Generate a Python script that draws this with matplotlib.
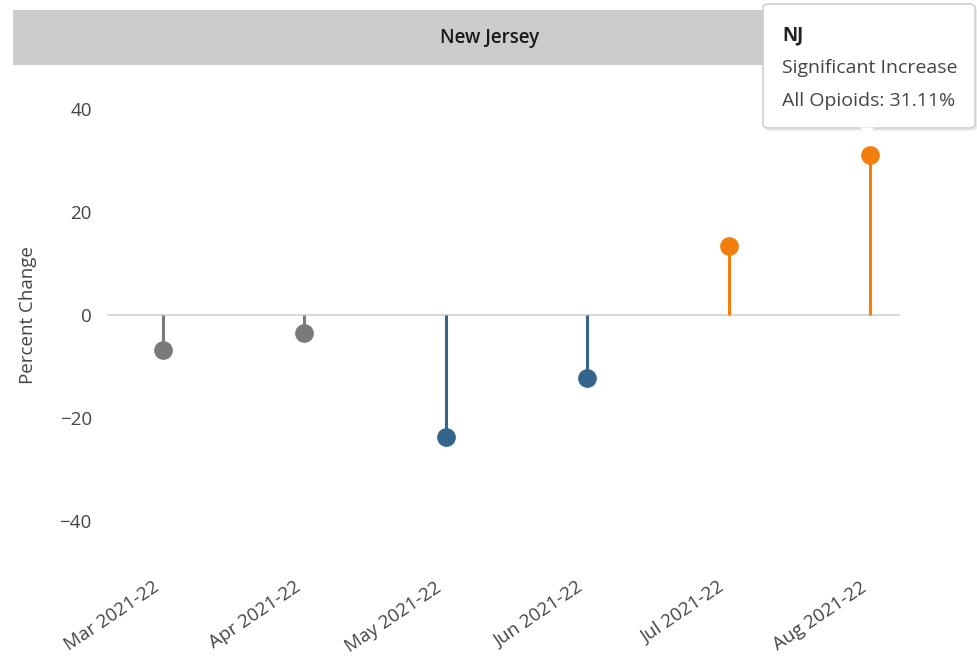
import matplotlib.pyplot as plt
import matplotlib.transforms as mtransforms
from matplotlib.patches import FancyBboxPatch, Rectangle, Polygon

plt.rcParams['font.family'] = ['Open Sans', 'DejaVu Sans']

# ===================== data =====================
months = ['Mar 2021-22', 'Apr 2021-22', 'May 2021-22', 'Jun 2021-22', 'Jul 2021-22', 'Aug 2021-22']
pct_change = [-6.8, -3.5, -23.7, -12.2, 13.4, 31.11]
status = ['None', 'None', 'Significant Decrease', 'Significant Decrease', 'Significant Increase', 'Significant Increase']
status_color = {'None': '#7a7a7a', 'Significant Decrease': '#35648d', 'Significant Increase': '#f27f0c'}
yticks = [-40, -20, 0, 20, 40]

W, H = 977, 662
fig = plt.figure(figsize=(W / 100, H / 100), dpi=100)

# axes placed in pixel coords
ax_l, ax_r, ax_t, ax_b = 107, 900, 57.5, 572.5
ax = fig.add_axes([ax_l / W, (H - ax_b) / H, (ax_r - ax_l) / W, (ax_b - ax_t) / H])

x = list(range(len(months)))
for i in x:
    c = status_color[status[i]]
    ax.plot([i, i], [0, pct_change[i]], color=c, lw=2.2, solid_capstyle='butt', zorder=2)
    ax.plot(i, pct_change[i], 'o', color=c, ms=13.5, mec='none', zorder=3)

ax.axhline(0, color='#d9d9d9', lw=1.5, zorder=1)
ax.set_xlim(-0.396, 5.21)
ax.set_ylim(-50, 50)
ax.set_yticks(yticks)
ax.set_yticklabels(['\u2212' + str(abs(v)) if v < 0 else str(v) for v in yticks])
ax.set_xticks(x)
ax.set_xticklabels(months, rotation=34, ha='right', rotation_mode='anchor')
ax.tick_params(axis='both', length=0, labelsize=13.5, labelcolor='#444444')
ax.tick_params(axis='x', pad=7)
ax.tick_params(axis='y', pad=11)
# nudge rotated labels left/up a bit
off = mtransforms.ScaledTranslation(-11 / 100, 4 / 100, fig.dpi_scale_trans)
for lbl in ax.get_xticklabels():
    lbl.set_transform(lbl.get_transform() + off)
for s in ax.spines.values():
    s.set_visible(False)
ax.set_ylabel('Percent Change', fontsize=13.5, color='#444444')
ax.yaxis.set_label_coords((37 - ax_l) / (ax_r - ax_l), 0.5)

# ===================== header strip =====================
fig.patches.append(Rectangle((13 / W, (H - 65) / H), (967 - 13) / W, 55 / H,
                             transform=fig.transFigure, facecolor='#cccccc', edgecolor='none', zorder=0))
fig.text(490 / W, (H - 38) / H, 'New Jersey', ha='center', va='center', fontsize=13.5,
         fontweight='semibold', color='#1a1a1a')

# ===================== tooltip =====================
tx0, ty0, tx1, ty1 = 763, 4, 975, 128
shadow = FancyBboxPatch(((tx0 + 2) / W, (H - ty1 - 3) / H), (tx1 - tx0) / W, (ty1 - ty0) / H,
                        boxstyle='round,pad=0,rounding_size=0.006', transform=fig.transFigure,
                        facecolor='#00000014', edgecolor='none', zorder=5)
fig.patches.append(shadow)
box = FancyBboxPatch((tx0 / W, (H - ty1) / H), (tx1 - tx0) / W, (ty1 - ty0) / H,
                     boxstyle='round,pad=0,rounding_size=0.006', transform=fig.transFigure,
                     facecolor='white', edgecolor='#c8c8c8', lw=1, zorder=6)
fig.patches.append(box)
fig.patches.append(Polygon([(860 / W, (H - ty1 + 0.5) / H), (874 / W, (H - ty1 + 0.5) / H), (867 / W, (H - 136) / H)],
                           closed=True, transform=fig.transFigure, facecolor='white', edgecolor='none', zorder=7))
fig.text(782 / W, (H - 35) / H, 'NJ', ha='left', va='center', fontsize=13.5, fontweight='bold', color='#222222', zorder=8)
fig.text(782 / W, (H - 68) / H, 'Significant Increase', ha='left', va='center', fontsize=14, color='#444444', zorder=8)
fig.text(782 / W, (H - 101) / H, 'All Opioids: 31.11%', ha='left', va='center', fontsize=14, color='#444444', zorder=8)

fig.savefig('out.png', dpi=100)
